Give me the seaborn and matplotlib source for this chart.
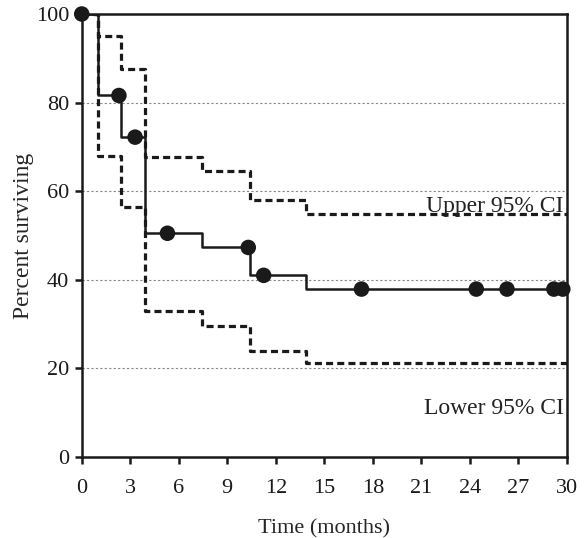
import numpy as np
import pandas as pd
import matplotlib
matplotlib.use('Agg')
import matplotlib.pyplot as plt
import seaborn as sns

# Kaplan-Meier step values
step_time = [0, 1.0, 2.4, 3.9, 7.45, 10.4, 13.9, 30]
survival = [100, 81.6, 72.2, 50.5, 47.3, 41.0, 37.9, 37.9]
upper_ci = [100, 95.0, 87.6, 67.8, 64.5, 57.9, 54.8, 54.8]
lower_ci = [100, 67.9, 56.5, 33.0, 29.6, 24.0, 21.3, 21.3]

# censored observations
censor_time = [0, 2.3, 3.3, 5.3, 10.3, 11.25, 17.3, 24.4, 26.3, 29.2, 29.75]
censor_surv = [100, 81.6, 72.2, 50.5, 47.3, 41.0, 37.9, 37.9, 37.9, 37.9, 37.9]

x_ticks = [0, 3, 6, 9, 12, 15, 18, 21, 24, 27, 30]
y_ticks = [0, 20, 40, 60, 80, 100]

sns.set_style('white')
plt.rcParams['font.family'] = ['Liberation Serif', 'DejaVu Serif']

df = pd.DataFrame({'time': step_time, 'surv': survival,
                   'upper': upper_ci, 'lower': lower_ci})
cens = pd.DataFrame({'time': censor_time, 'surv': censor_surv})

fig = plt.figure(figsize=(5.88, 5.38), dpi=100)
ax = fig.add_axes([0.139, 0.1506, 0.825, 0.8234])

for y in [20, 40, 60, 80]:
    ax.axhline(y, color='#888888', linestyle=(0, (2, 2)), linewidth=0.8, zorder=0)

dash = (0, (2.2, 1.3))
sns.lineplot(data=df, x='time', y='upper', ax=ax, drawstyle='steps-post',
             estimator=None, color='#1a1a1a', linewidth=2.3, linestyle=dash)
sns.lineplot(data=df, x='time', y='lower', ax=ax, drawstyle='steps-post',
             estimator=None, color='#1a1a1a', linewidth=2.3, linestyle=dash)
sns.lineplot(data=df, x='time', y='surv', ax=ax, drawstyle='steps-post',
             estimator=None, color='#1a1a1a', linewidth=1.8)
sns.scatterplot(data=cens, x='time', y='surv', ax=ax, color='#1a1a1a',
                s=125, edgecolor='none', zorder=5, clip_on=False)

ax.text(29.8, 56.5, 'Upper 95% CI', ha='right', va='center', fontsize=17, color='#222222')
ax.text(29.8, 11, 'Lower 95% CI', ha='right', va='center', fontsize=17, color='#222222')

ax.set_xlim(0, 30)
ax.set_ylim(0, 100)
ax.set_xticks(x_ticks)
ax.set_yticks(y_ticks)
ax.set_xlabel('Time (months)', fontsize=16, labelpad=15)
ax.set_ylabel('Percent surviving', fontsize=17, labelpad=1)
ax.tick_params(axis='both', direction='out', length=5, width=1.8, labelsize=16,
               colors='#1a1a1a', bottom=True, left=True)
ax.tick_params(axis='x', pad=11)
ax.tick_params(axis='y', pad=4)
for spine in ax.spines.values():
    spine.set_linewidth(1.8)
    spine.set_color('#1a1a1a')

fig.savefig('out.png', dpi=100)
